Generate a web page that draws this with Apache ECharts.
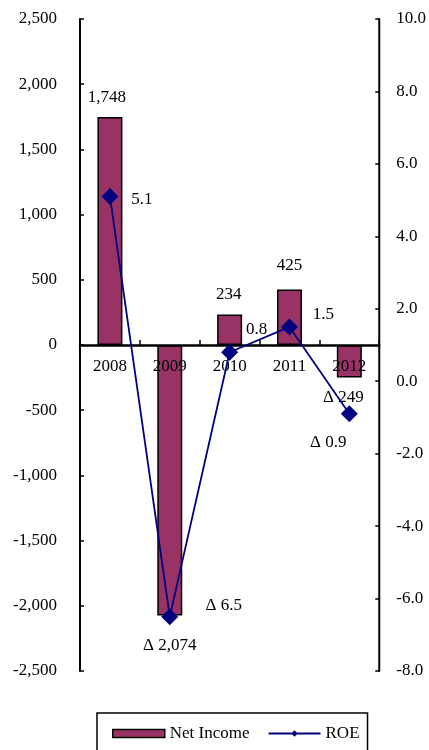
<!DOCTYPE html>
<html>
<head>
<meta charset="utf-8">
<script src="https://cdn.jsdelivr.net/npm/echarts@6/dist/echarts.min.js"></script>
<style>
html,body{margin:0;padding:0;background:#fff;}
#chart{width:429px;height:750px;}
</style>
</head>
<body>
<div id="chart"></div>
<script>
const categories = ['2008', '2009', '2010', '2011', '2012'];
const netIncome = [1748, -2074, 234, 425, -249];
const roe = [5.1, -6.5, 0.8, 1.5, -0.9];
const leftTicks = { min: -2500, max: 2500, interval: 500 };
const rightTicks = { min: -8, max: 10, interval: 2 };

const FONT = '"Liberation Serif", "Times New Roman", serif';
const fmtThousands = v => {
  const s = Math.abs(v).toString().replace(/\B(?=(\d{3})+(?!\d))/g, ',');
  return (v < 0 ? '-' : '') + s;
};
const fmtNeg = (v, dec) => {
  const a = dec ? Math.abs(v).toFixed(dec) : Math.abs(v).toString().replace(/\B(?=(\d{3})+(?!\d))/g, ',');
  return v < 0 ? 'Δ ' + a : a;
};

const barLabelAdj = [[-3, 0], [0, 10], [-1, 0], [0, -5], [-6, 0]];
const lineLabelAdj = [[32, 3], [54, -11], [27, -23], [34, -12], [-21, 29]];

const GRID_TOP = 19, GRID_BOTTOM = 79, H = 750;
const plotH = H - GRID_TOP - GRID_BOTTOM;
// shift category axis from bottom edge up to the left axis' zero
const zeroShift = -plotH * (0 - leftTicks.min) / (leftTicks.max - leftTicks.min);

const chart = echarts.init(document.getElementById('chart'), null, { renderer: 'canvas' });
chart.setOption({
  animation: false,
  textStyle: { fontFamily: FONT },
  grid: { left: 80, right: 49, top: GRID_TOP, bottom: GRID_BOTTOM },
  legend: {
    top: 713,
    left: 97,
    padding: [12, 8, 18, 15],
    borderColor: '#000',
    borderWidth: 1.5,
    itemGap: 18,
    textStyle: { fontFamily: FONT, fontSize: 17, color: '#000' },
    data: [
      { name: 'Net Income', icon: 'rect', itemStyle: { color: '#993366', borderColor: '#000', borderWidth: 1.5 } },
      { name: 'ROE' }
    ],
    itemWidth: 52,
    itemHeight: 8
  },
  xAxis: {
    type: 'category',
    data: categories,
    z: 3,
    offset: zeroShift,
    axisLine: { show: true, onZero: false, lineStyle: { color: '#000', width: 2.5 } },
    axisTick: { show: true, inside: true, length: 5, lineStyle: { color: '#000', width: 1.5 } },
    axisLabel: { color: '#000', fontFamily: FONT, fontSize: 17, margin: 13 },
    splitLine: { show: false }
  },
  yAxis: [
    {
      type: 'value',
      min: leftTicks.min, max: leftTicks.max, interval: leftTicks.interval,
      axisLine: { show: true, onZero: false, lineStyle: { color: '#000', width: 2 } },
      axisTick: { show: true, inside: true, length: 4, lineStyle: { color: '#000', width: 1.5 } },
      axisLabel: { color: '#000', fontFamily: FONT, fontSize: 17, margin: 23, formatter: fmtThousands },
      splitLine: { show: false }
    },
    {
      type: 'value',
      min: rightTicks.min, max: rightTicks.max, interval: rightTicks.interval,
      position: 'right',
      axisLine: { show: true, onZero: false, lineStyle: { color: '#000', width: 2 } },
      axisTick: { show: true, inside: true, length: 4, lineStyle: { color: '#000', width: 1.5 } },
      axisLabel: { color: '#000', fontFamily: FONT, fontSize: 17, margin: 17, formatter: v => v.toFixed(1) },
      splitLine: { show: false }
    }
  ],
  series: [
    {
      name: 'Net Income',
      type: 'bar',
      yAxisIndex: 0,
      z: 1,
      barWidth: 25,
      itemStyle: { color: '#993366', borderColor: '#000', borderWidth: 1.5 },
      data: netIncome.map((v, i) => ({
        value: v,
        label: {
          show: true,
          position: v >= 0 ? 'top' : 'bottom',
          distance: v >= 0 ? 11 : 12,
          offset: barLabelAdj[i],
          color: '#000',
          fontFamily: FONT,
          fontSize: 17,
          formatter: p => fmtNeg(p.value, 0)
        }
      }))
    },
    {
      name: 'ROE',
      type: 'line',
      yAxisIndex: 1,
      z: 5,
      symbol: 'diamond',
      symbolSize: 17,
      lineStyle: { color: '#000080', width: 1.8 },
      itemStyle: { color: '#000080' },
      data: roe.map((v, i) => ({
        value: v,
        label: {
          show: true,
          position: 'inside',
          offset: lineLabelAdj[i],
          color: '#000',
          fontFamily: FONT,
          fontSize: 17,
          formatter: p => fmtNeg(p.value, 1)
        }
      }))
    }
  ]
});
</script>
</body>
</html>
